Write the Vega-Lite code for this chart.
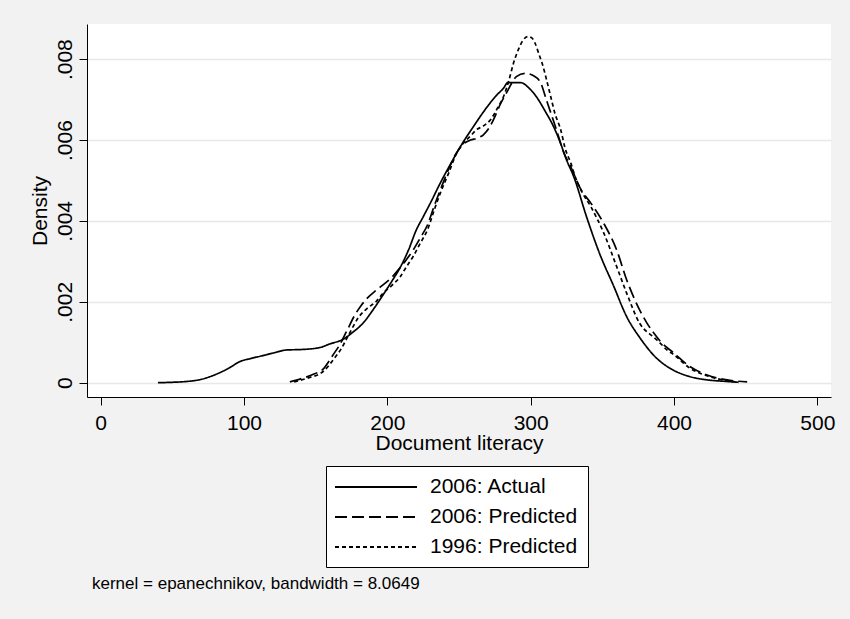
{
  "$schema": "https://vega.github.io/schema/vega-lite/v6.json",
  "autosize": {"type": "none"},
  "padding": {"left": 87, "top": 24, "right": 19, "bottom": 222},
  "width": 744,
  "height": 373,
  "background": "#f2f2f2",
  "config": {
    "font": "Liberation Sans",
    "view": {"fill": "white", "stroke": null}
  },
  "title": {
    "text": "kernel = epanechnikov, bandwidth = 8.0649",
    "orient": "bottom",
    "anchor": "start",
    "frame": "group",
    "offset": 21,
    "baseline": "alphabetic",
    "fontSize": 17,
    "fontWeight": "normal",
    "color": "black",
    "dx": 5
  },
  "data": {
    "values": [
      {"series": "2006: Actual", "literacy": 40, "density": 0},
      {"series": "2006: Actual", "literacy": 50, "density": 0.00001},
      {"series": "2006: Actual", "literacy": 60, "density": 0.00003},
      {"series": "2006: Actual", "literacy": 70, "density": 0.00008},
      {"series": "2006: Actual", "literacy": 80, "density": 0.0002},
      {"series": "2006: Actual", "literacy": 90, "density": 0.00037},
      {"series": "2006: Actual", "literacy": 97, "density": 0.00052},
      {"series": "2006: Actual", "literacy": 105, "density": 0.0006},
      {"series": "2006: Actual", "literacy": 112, "density": 0.00066},
      {"series": "2006: Actual", "literacy": 120, "density": 0.00073},
      {"series": "2006: Actual", "literacy": 130, "density": 0.00081},
      {"series": "2006: Actual", "literacy": 140, "density": 0.00082},
      {"series": "2006: Actual", "literacy": 153, "density": 0.00087},
      {"series": "2006: Actual", "literacy": 160, "density": 0.00096},
      {"series": "2006: Actual", "literacy": 169, "density": 0.00107},
      {"series": "2006: Actual", "literacy": 176, "density": 0.00125},
      {"series": "2006: Actual", "literacy": 183, "density": 0.00147},
      {"series": "2006: Actual", "literacy": 190, "density": 0.0018},
      {"series": "2006: Actual", "literacy": 197, "density": 0.00217},
      {"series": "2006: Actual", "literacy": 203, "density": 0.0025},
      {"series": "2006: Actual", "literacy": 209, "density": 0.00285},
      {"series": "2006: Actual", "literacy": 215, "density": 0.0033},
      {"series": "2006: Actual", "literacy": 220, "density": 0.00376},
      {"series": "2006: Actual", "literacy": 225, "density": 0.0041},
      {"series": "2006: Actual", "literacy": 230, "density": 0.00444},
      {"series": "2006: Actual", "literacy": 238, "density": 0.00501},
      {"series": "2006: Actual", "literacy": 244, "density": 0.0054},
      {"series": "2006: Actual", "literacy": 251, "density": 0.00584},
      {"series": "2006: Actual", "literacy": 260, "density": 0.00633},
      {"series": "2006: Actual", "literacy": 269, "density": 0.00679},
      {"series": "2006: Actual", "literacy": 276, "density": 0.0071},
      {"series": "2006: Actual", "literacy": 281, "density": 0.00728},
      {"series": "2006: Actual", "literacy": 284, "density": 0.00742},
      {"series": "2006: Actual", "literacy": 293, "density": 0.00742},
      {"series": "2006: Actual", "literacy": 299, "density": 0.00728},
      {"series": "2006: Actual", "literacy": 304, "density": 0.00707},
      {"series": "2006: Actual", "literacy": 310, "density": 0.00672},
      {"series": "2006: Actual", "literacy": 316, "density": 0.00633},
      {"series": "2006: Actual", "literacy": 320, "density": 0.006},
      {"series": "2006: Actual", "literacy": 325, "density": 0.00551},
      {"series": "2006: Actual", "literacy": 330, "density": 0.0051},
      {"series": "2006: Actual", "literacy": 339, "density": 0.0041},
      {"series": "2006: Actual", "literacy": 348, "density": 0.0032},
      {"series": "2006: Actual", "literacy": 358, "density": 0.00238},
      {"series": "2006: Actual", "literacy": 367, "density": 0.00163},
      {"series": "2006: Actual", "literacy": 376, "density": 0.00112},
      {"series": "2006: Actual", "literacy": 388, "density": 0.0006},
      {"series": "2006: Actual", "literacy": 398, "density": 0.00034},
      {"series": "2006: Actual", "literacy": 411, "density": 0.00015},
      {"series": "2006: Actual", "literacy": 423, "density": 0.00007},
      {"series": "2006: Actual", "literacy": 437, "density": 0.00003},
      {"series": "2006: Actual", "literacy": 445, "density": 0.00001},

      {"series": "2006: Predicted", "literacy": 132, "density": 0.00002},
      {"series": "2006: Predicted", "literacy": 140, "density": 0.0001},
      {"series": "2006: Predicted", "literacy": 148, "density": 0.0002},
      {"series": "2006: Predicted", "literacy": 155, "density": 0.00033},
      {"series": "2006: Predicted", "literacy": 162, "density": 0.00068},
      {"series": "2006: Predicted", "literacy": 167, "density": 0.00095},
      {"series": "2006: Predicted", "literacy": 172, "density": 0.0013},
      {"series": "2006: Predicted", "literacy": 177, "density": 0.00165},
      {"series": "2006: Predicted", "literacy": 182, "density": 0.00192},
      {"series": "2006: Predicted", "literacy": 186, "density": 0.00209},
      {"series": "2006: Predicted", "literacy": 192, "density": 0.00228},
      {"series": "2006: Predicted", "literacy": 197, "density": 0.00242},
      {"series": "2006: Predicted", "literacy": 203, "density": 0.0026},
      {"series": "2006: Predicted", "literacy": 209, "density": 0.00285},
      {"series": "2006: Predicted", "literacy": 213, "density": 0.00303},
      {"series": "2006: Predicted", "literacy": 218, "density": 0.00328},
      {"series": "2006: Predicted", "literacy": 223, "density": 0.00358},
      {"series": "2006: Predicted", "literacy": 228, "density": 0.0039},
      {"series": "2006: Predicted", "literacy": 233, "density": 0.0044},
      {"series": "2006: Predicted", "literacy": 237, "density": 0.00477},
      {"series": "2006: Predicted", "literacy": 243, "density": 0.0053},
      {"series": "2006: Predicted", "literacy": 248, "density": 0.00567},
      {"series": "2006: Predicted", "literacy": 253, "density": 0.0059},
      {"series": "2006: Predicted", "literacy": 258, "density": 0.006},
      {"series": "2006: Predicted", "literacy": 263, "density": 0.00605},
      {"series": "2006: Predicted", "literacy": 267, "density": 0.00613},
      {"series": "2006: Predicted", "literacy": 271, "density": 0.0063},
      {"series": "2006: Predicted", "literacy": 274, "density": 0.0065},
      {"series": "2006: Predicted", "literacy": 279, "density": 0.0069},
      {"series": "2006: Predicted", "literacy": 283, "density": 0.00716},
      {"series": "2006: Predicted", "literacy": 287, "density": 0.00742},
      {"series": "2006: Predicted", "literacy": 290, "density": 0.00757},
      {"series": "2006: Predicted", "literacy": 296, "density": 0.00765},
      {"series": "2006: Predicted", "literacy": 302, "density": 0.00759},
      {"series": "2006: Predicted", "literacy": 307, "density": 0.00741},
      {"series": "2006: Predicted", "literacy": 311, "density": 0.00699},
      {"series": "2006: Predicted", "literacy": 318, "density": 0.00625},
      {"series": "2006: Predicted", "literacy": 323, "density": 0.0057},
      {"series": "2006: Predicted", "literacy": 328, "density": 0.00534},
      {"series": "2006: Predicted", "literacy": 335, "density": 0.00478},
      {"series": "2006: Predicted", "literacy": 342, "density": 0.00444},
      {"series": "2006: Predicted", "literacy": 351, "density": 0.00394},
      {"series": "2006: Predicted", "literacy": 360, "density": 0.00328},
      {"series": "2006: Predicted", "literacy": 367, "density": 0.00254},
      {"series": "2006: Predicted", "literacy": 376, "density": 0.0018},
      {"series": "2006: Predicted", "literacy": 381, "density": 0.00148},
      {"series": "2006: Predicted", "literacy": 386, "density": 0.00122},
      {"series": "2006: Predicted", "literacy": 391, "density": 0.001},
      {"series": "2006: Predicted", "literacy": 400, "density": 0.00073},
      {"series": "2006: Predicted", "literacy": 411, "density": 0.0004},
      {"series": "2006: Predicted", "literacy": 423, "density": 0.00019},
      {"series": "2006: Predicted", "literacy": 437, "density": 0.00007},
      {"series": "2006: Predicted", "literacy": 451, "density": 0.00002},

      {"series": "1996: Predicted", "literacy": 135, "density": 0.00002},
      {"series": "1996: Predicted", "literacy": 145, "density": 0.00012},
      {"series": "1996: Predicted", "literacy": 155, "density": 0.00027},
      {"series": "1996: Predicted", "literacy": 163, "density": 0.0006},
      {"series": "1996: Predicted", "literacy": 168, "density": 0.00085},
      {"series": "1996: Predicted", "literacy": 173, "density": 0.00118},
      {"series": "1996: Predicted", "literacy": 180, "density": 0.00162},
      {"series": "1996: Predicted", "literacy": 186, "density": 0.00184},
      {"series": "1996: Predicted", "literacy": 192, "density": 0.002},
      {"series": "1996: Predicted", "literacy": 197, "density": 0.00221},
      {"series": "1996: Predicted", "literacy": 203, "density": 0.0024},
      {"series": "1996: Predicted", "literacy": 209, "density": 0.00262},
      {"series": "1996: Predicted", "literacy": 213, "density": 0.00285},
      {"series": "1996: Predicted", "literacy": 218, "density": 0.00312},
      {"series": "1996: Predicted", "literacy": 223, "density": 0.00345},
      {"series": "1996: Predicted", "literacy": 228, "density": 0.00378},
      {"series": "1996: Predicted", "literacy": 233, "density": 0.0043},
      {"series": "1996: Predicted", "literacy": 237, "density": 0.00469},
      {"series": "1996: Predicted", "literacy": 243, "density": 0.0052},
      {"series": "1996: Predicted", "literacy": 248, "density": 0.00565},
      {"series": "1996: Predicted", "literacy": 253, "density": 0.00592},
      {"series": "1996: Predicted", "literacy": 258, "density": 0.0061},
      {"series": "1996: Predicted", "literacy": 262, "density": 0.00625},
      {"series": "1996: Predicted", "literacy": 267, "density": 0.00635},
      {"series": "1996: Predicted", "literacy": 272, "density": 0.0065},
      {"series": "1996: Predicted", "literacy": 277, "density": 0.0068},
      {"series": "1996: Predicted", "literacy": 281, "density": 0.00707},
      {"series": "1996: Predicted", "literacy": 285, "density": 0.0075},
      {"series": "1996: Predicted", "literacy": 288, "density": 0.0079},
      {"series": "1996: Predicted", "literacy": 291, "density": 0.0082},
      {"series": "1996: Predicted", "literacy": 294, "density": 0.00843},
      {"series": "1996: Predicted", "literacy": 298, "density": 0.00856},
      {"series": "1996: Predicted", "literacy": 301, "density": 0.00852},
      {"series": "1996: Predicted", "literacy": 303, "density": 0.0084},
      {"series": "1996: Predicted", "literacy": 306, "density": 0.0081},
      {"series": "1996: Predicted", "literacy": 308, "density": 0.0079},
      {"series": "1996: Predicted", "literacy": 311, "density": 0.0075},
      {"series": "1996: Predicted", "literacy": 314, "density": 0.00707},
      {"series": "1996: Predicted", "literacy": 317, "density": 0.00665},
      {"series": "1996: Predicted", "literacy": 321, "density": 0.00625},
      {"series": "1996: Predicted", "literacy": 324, "density": 0.0058},
      {"series": "1996: Predicted", "literacy": 328, "density": 0.00543},
      {"series": "1996: Predicted", "literacy": 331, "density": 0.0051},
      {"series": "1996: Predicted", "literacy": 336, "density": 0.0047},
      {"series": "1996: Predicted", "literacy": 342, "density": 0.00435},
      {"series": "1996: Predicted", "literacy": 351, "density": 0.0037},
      {"series": "1996: Predicted", "literacy": 360, "density": 0.00287},
      {"series": "1996: Predicted", "literacy": 367, "density": 0.00221},
      {"series": "1996: Predicted", "literacy": 376, "density": 0.00147},
      {"series": "1996: Predicted", "literacy": 386, "density": 0.00112},
      {"series": "1996: Predicted", "literacy": 390, "density": 0.00099},
      {"series": "1996: Predicted", "literacy": 395, "density": 0.00081},
      {"series": "1996: Predicted", "literacy": 400, "density": 0.00069},
      {"series": "1996: Predicted", "literacy": 411, "density": 0.00036},
      {"series": "1996: Predicted", "literacy": 423, "density": 0.00017},
      {"series": "1996: Predicted", "literacy": 437, "density": 0.00005},
      {"series": "1996: Predicted", "literacy": 443, "density": 0.00002}
    ]
  },
  "mark": {"type": "line", "color": "black", "strokeWidth": 1.7, "interpolate": "monotone", "clip": true},
  "encoding": {
    "x": {
      "field": "literacy",
      "type": "quantitative",
      "scale": {"domain": [-9.5, 509.5], "nice": false, "zero": false},
      "axis": {
        "title": "Document literacy",
        "values": [0, 100, 200, 300, 400, 500],
        "grid": false,
        "domainColor": "black",
        "domainWidth": 1,
        "tickColor": "black",
        "tickSize": 8,
        "tickWidth": 1,
        "labelFontSize": 21,
        "labelColor": "black",
        "labelBaseline": "alphabetic",
        "labelPadding": 24,
        "labelFlush": false,
        "labelOverlap": false,
        "titleFontSize": 21,
        "titleFontWeight": "normal",
        "titleColor": "black",
        "titleBaseline": "alphabetic",
        "titleAlign": "center",
        "titleX": 372,
        "titleY": 52
      }
    },
    "y": {
      "field": "density",
      "type": "quantitative",
      "scale": {"domain": [-0.000354, 0.00887], "nice": false, "zero": false},
      "axis": {
        "title": "Density",
        "values": [0, 0.002, 0.004, 0.006, 0.008],
        "labelExpr": "datum.value === 0 ? '0' : substring(format(datum.value, '.3f'), 1)",
        "grid": true,
        "gridColor": "#e8e8e8",
        "gridWidth": 1.5,
        "domainColor": "black",
        "domainWidth": 1,
        "tickColor": "black",
        "tickSize": 8,
        "tickWidth": 1,
        "labelFontSize": 21,
        "labelColor": "black",
        "labelAngle": 270,
        "labelAlign": "center",
        "labelBaseline": "alphabetic",
        "labelPadding": 8,
        "labelFlush": false,
        "labelOverlap": false,
        "titleFontSize": 21,
        "titleFontWeight": "normal",
        "titleColor": "black",
        "titleAngle": 270,
        "titleAlign": "center",
        "titleBaseline": "alphabetic",
        "titleX": -41,
        "titleY": 186.5
      }
    },
    "strokeDash": {
      "field": "series",
      "type": "nominal",
      "scale": {
        "domain": ["2006: Actual", "2006: Predicted", "1996: Predicted"],
        "range": [[1, 0], [12, 5], [4, 3]]
      },
      "legend": {
        "title": null,
        "orient": "none",
        "legendX": 239,
        "legendY": 442,
        "direction": "vertical",
        "padding": 10,
        "strokeColor": "black",
        "fillColor": "white",
        "cornerRadius": 0,
        "symbolType": "M-1.2,0H7",
        "symbolSize": 400,
        "symbolStrokeWidth": 1.8,
        "symbolStrokeColor": "black",
        "symbolFillColor": "transparent",
        "labelOffset": 72,
        "labelFontSize": 21,
        "labelColor": "black",
        "labelLimit": 300,
        "rowPadding": 9
      }
    }
  }
}
